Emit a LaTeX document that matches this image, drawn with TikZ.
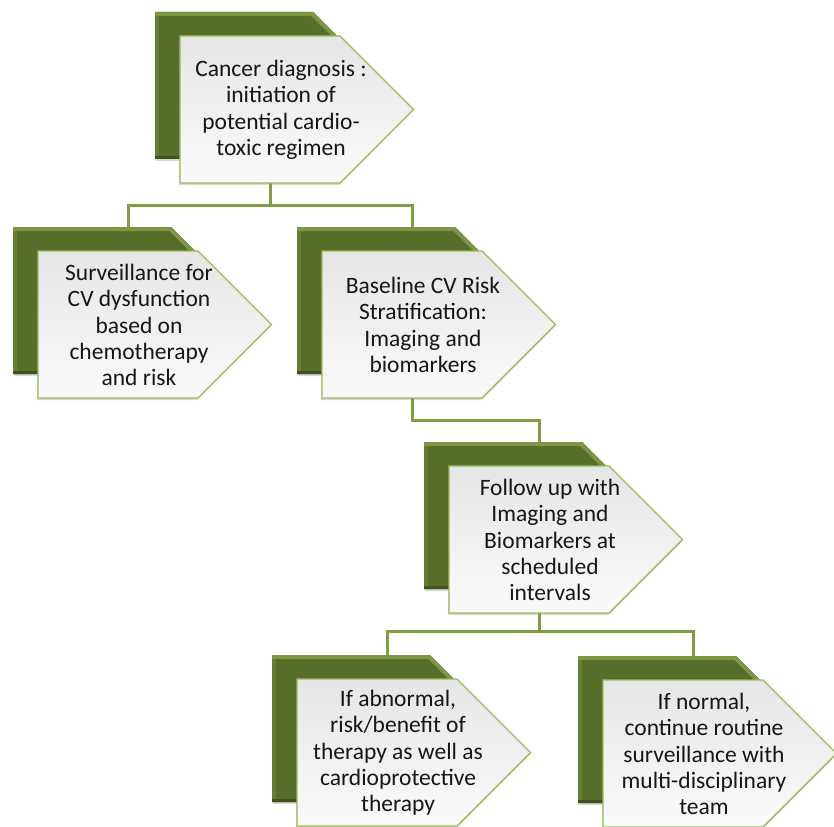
\documentclass[tikz,border=0pt]{standalone}
\usepackage{fontspec}
\setmainfont{Carlito}
\usetikzlibrary{shadows,backgrounds}
\definecolor{olivebase}{RGB}{86,110,42}
\definecolor{olivetop}{RGB}{124,150,68}
\definecolor{oliveleft}{RGB}{100,126,50}
\definecolor{olivebot}{RGB}{64,82,28}
\definecolor{frontborder}{RGB}{155,187,89}
\definecolor{frontdark}{RGB}{230,230,230}
\definecolor{frontlight}{RGB}{250,250,250}
\definecolor{connc}{RGB}{128,158,64}
\definecolor{txt}{RGB}{22,22,22}
\tikzset{
  backshape/.style={fill=olivebase, draw=none,
    drop shadow={opacity=0.3, shadow xshift=1pt, shadow yshift=-2pt}},
  bevtop/.style={draw=olivetop, line width=8pt},
  bevleft/.style={draw=oliveleft, line width=8pt},
  bevbot/.style={draw=olivebot, line width=6pt},
  frontshape/.style={draw=frontborder, line width=1.4pt, line join=miter,
    top color=frontdark, bottom color=frontlight,
    drop shadow={opacity=0.3, shadow xshift=-1pt, shadow yshift=-2pt}},
  itemtext/.style={text=txt, align=center, inner sep=0pt,
    font=\fontsize{23.5}{26.3}\selectfont},
  conn/.style={draw=connc, line width=3pt, line join=miter},
}
\newcommand\hieritem[4]{%
  \path[backshape] (#2,#3) -- ++(158,0) -- ++(73.5,73.5) -- ++(-73.5,73.5) -- ++(-158,0) -- cycle;
  \begin{scope}
    \clip (#2,#3) -- ++(158,0) -- ++(73.5,73.5) -- ++(-73.5,73.5) -- ++(-158,0) -- cycle;
    \draw[bevleft] (#2,#3) -- ++(0,147);
    \draw[bevbot] (#2,#3+147) -- ++(158,0);
    \draw[bevtop] (#2,#3) -- ++(158,0) -- ++(73.5,73.5);
  \end{scope}
  \path[frontshape] (#2+25,#3+24) -- ++(160,0) -- ++(73.5,73.5) -- ++(-73.5,73.5) -- ++(-160,0) -- cycle;
  \node[itemtext] (#1) at (#2+126,#3+98) {#4};
  \coordinate (#1-top) at (#2+115,#3);
  \coordinate (#1-bot) at (#2+115,#3+171);
}
\begin{document}
\begin{tikzpicture}[x=1pt,y=-1pt]
  \useasboundingbox (0,0) rectangle (834,826);
  \clip (0,0) rectangle (834,826);
  \hieritem{n1}{155}{12}{Cancer diagnosis :\\initiation of\\potential cardio-\\toxic regimen}
  \hieritem{n2}{13}{227}{Surveillance for\\CV dysfunction\\based on\\chemotherapy\\and risk}
  \hieritem{n3}{297}{227}{Baseline CV Risk\\Stratification:\\Imaging and\\biomarkers}
  \hieritem{n4}{424}{442}{Follow up with\\Imaging and\\Biomarkers at\\scheduled\\intervals}
  \hieritem{n5}{272}{655}{If abnormal,\\risk/benefit of\\therapy as well as\\cardioprotective\\therapy}
  \hieritem{n6}{578}{656}{If normal,\\continue routine\\surveillance with\\multi-disciplinary\\team}
  \begin{scope}[on background layer]
    \fill[white] (0,0) rectangle (834,826);
    \draw[conn] (n1-bot) -- ++(0,23) -| (n2-top);
    \draw[conn] (n1-bot) -- ++(0,23) -| (n3-top);
    \draw[conn] (n3-bot) -- ++(0,22) -| (n4-top);
    \draw[conn] (n4-bot) -- ++(0,18) -| (n5-top);
    \draw[conn] (n4-bot) -- ++(0,18) -| (n6-top);
  \end{scope}
\end{tikzpicture}
\end{document}
